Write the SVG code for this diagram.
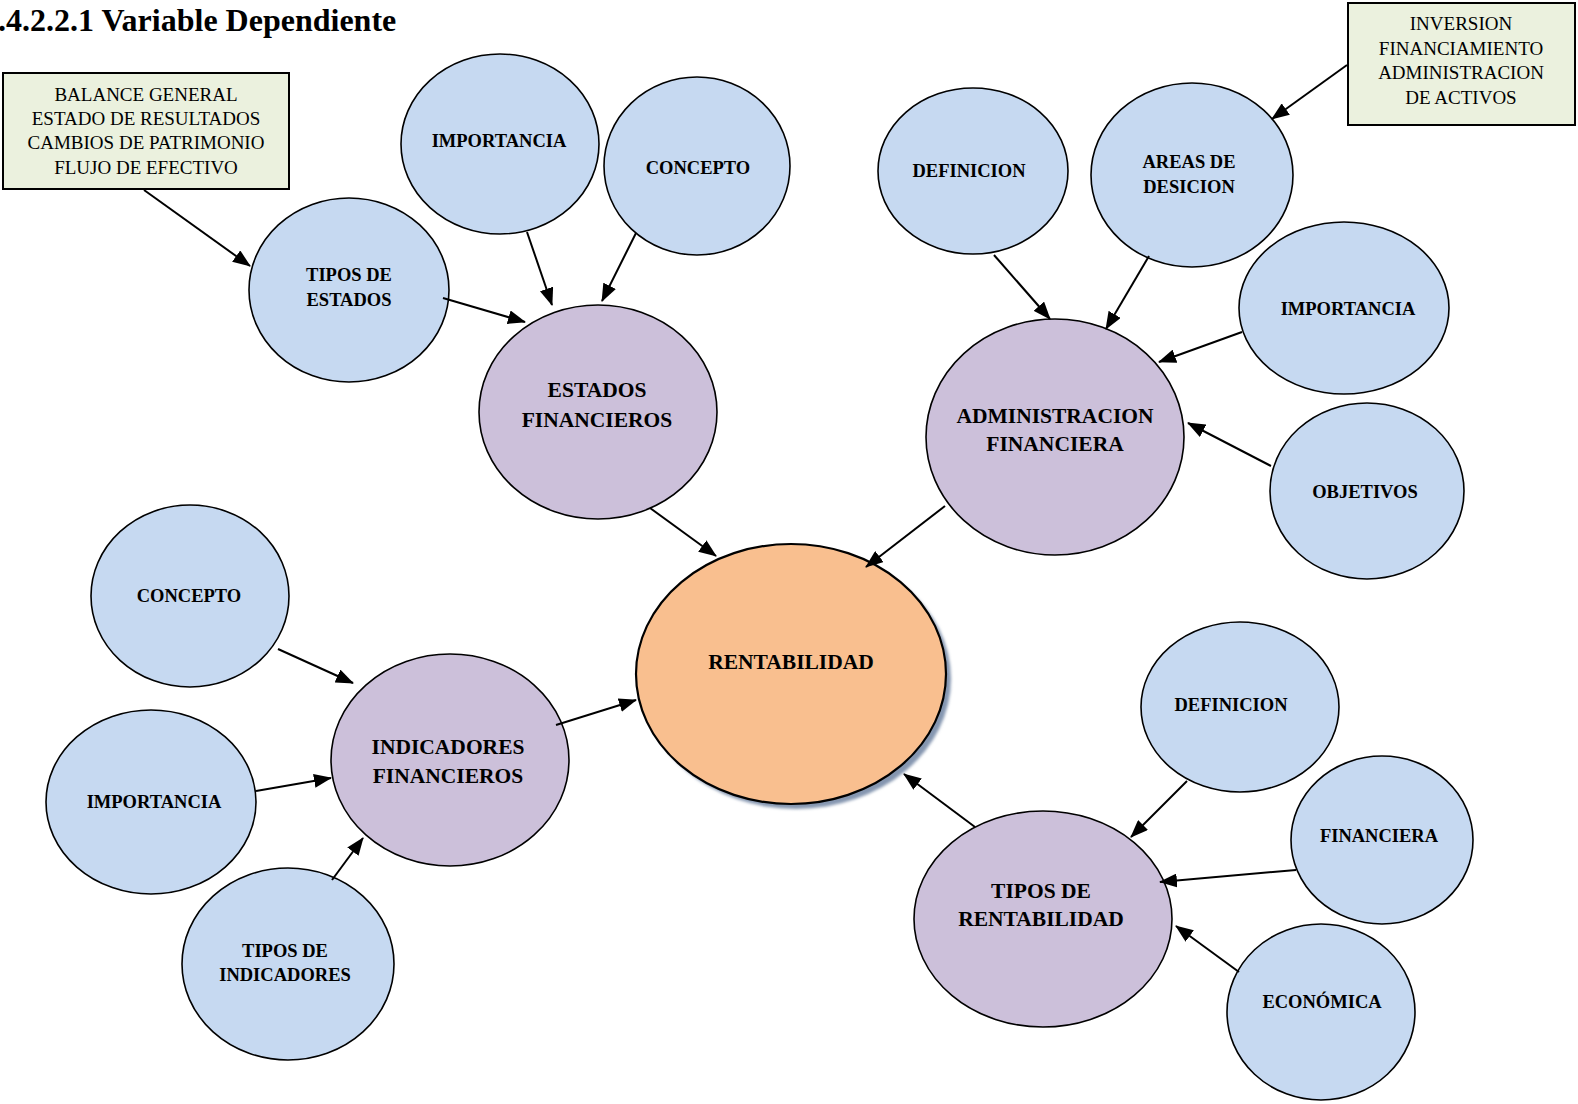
<svg xmlns="http://www.w3.org/2000/svg" width="1578" height="1104" viewBox="0 0 1578 1104">
  <style>
    .sub { fill: #c6d9f1; stroke: #000; stroke-width: 1.6; }
    .mid { fill: #ccc0da; stroke: #000; stroke-width: 1.6; }
    .core { fill: #f9bf8f; stroke: #000; stroke-width: 2.2; }
    .box { fill: #ebf1de; stroke: #000; stroke-width: 2; }
    .t { font-family: "Liberation Serif", "Times New Roman", serif; font-weight: bold; font-size: 18.5px; fill: #000; text-anchor: middle; }
    .tl { font-family: "Liberation Serif", "Times New Roman", serif; font-weight: bold; font-size: 21.5px; fill: #000; text-anchor: middle; }
    .tb { font-family: "Liberation Serif", "Times New Roman", serif; font-size: 19px; fill: #000; text-anchor: middle; }
    .title { font-family: "Liberation Serif", "Times New Roman", serif; font-weight: bold; font-size: 32px; fill: #000; }
    .conn line { stroke: #000; stroke-width: 2; marker-end: url(#arrow); }
  </style>
  <defs>
    <marker id="arrow" markerUnits="userSpaceOnUse" markerWidth="18" markerHeight="14" refX="17" refY="7" orient="auto">
      <path d="M0,0 L18,7 L0,14 Z" fill="#000"/>
    </marker>
    <filter id="soft" x="-10%" y="-10%" width="120%" height="120%">
      <feGaussianBlur stdDeviation="1.5"/>
    </filter>
  </defs>

  <rect width="1578" height="1104" fill="#fff"/>

  <text class="title" x="-2" y="31">.4.2.2.1 Variable Dependiente</text>

  <!-- detail boxes -->
  <g id="box-estados">
    <rect class="box" x="3" y="73" width="286" height="116"/>
    <text class="tb" x="146" y="101">BALANCE GENERAL</text>
    <text class="tb" x="146" y="125">ESTADO DE RESULTADOS</text>
    <text class="tb" x="146" y="149">CAMBIOS DE PATRIMONIO</text>
    <text class="tb" x="146" y="174">FLUJO DE EFECTIVO</text>
  </g>
  <g id="box-areas">
    <rect class="box" x="1348" y="3" width="227" height="122"/>
    <text class="tb" x="1461" y="30">INVERSION</text>
    <text class="tb" x="1461" y="55">FINANCIAMIENTO</text>
    <text class="tb" x="1461" y="79">ADMINISTRACION</text>
    <text class="tb" x="1461" y="104">DE ACTIVOS</text>
  </g>

  <!-- Estados financieros branch -->
  <g id="importancia-ef">
    <ellipse class="sub" cx="500" cy="144" rx="99" ry="90"/>
    <text class="t" x="499" y="147">IMPORTANCIA</text>
  </g>
  <g id="concepto-ef">
    <ellipse class="sub" cx="697" cy="166" rx="93" ry="89"/>
    <text class="t" x="698" y="174">CONCEPTO</text>
  </g>
  <g id="tipos-estados">
    <ellipse class="sub" cx="349" cy="290" rx="100" ry="92"/>
    <text class="t" x="349" y="281">TIPOS DE</text>
    <text class="t" x="349" y="306">ESTADOS</text>
  </g>
  <g id="estados-financieros">
    <ellipse class="mid" cx="598" cy="412" rx="119" ry="107"/>
    <text class="tl" x="597" y="397">ESTADOS</text>
    <text class="tl" x="597" y="427">FINANCIEROS</text>
  </g>

  <!-- Administracion financiera branch -->
  <g id="definicion-af">
    <ellipse class="sub" cx="973" cy="171" rx="95" ry="83"/>
    <text class="t" x="969" y="177">DEFINICION</text>
  </g>
  <g id="areas-decision">
    <ellipse class="sub" cx="1192" cy="175" rx="101" ry="92"/>
    <text class="t" x="1189" y="168">AREAS DE</text>
    <text class="t" x="1189" y="193">DESICION</text>
  </g>
  <g id="importancia-af">
    <ellipse class="sub" cx="1344" cy="308" rx="105" ry="86"/>
    <text class="t" x="1348" y="315">IMPORTANCIA</text>
  </g>
  <g id="objetivos">
    <ellipse class="sub" cx="1367" cy="491" rx="97" ry="88"/>
    <text class="t" x="1365" y="498">OBJETIVOS</text>
  </g>
  <g id="administracion-financiera">
    <ellipse class="mid" cx="1055" cy="437" rx="129" ry="118"/>
    <text class="tl" x="1055" y="423">ADMINISTRACION</text>
    <text class="tl" x="1055" y="451">FINANCIERA</text>
  </g>

  <!-- Central node -->
  <g id="rentabilidad">
    <ellipse cx="796" cy="679" rx="155" ry="130" fill="#8596b0" filter="url(#soft)"/>
    <ellipse class="core" cx="791" cy="674" rx="155" ry="130"/>
    <text class="tl" x="791" y="669">RENTABILIDAD</text>
  </g>

  <!-- Indicadores financieros branch -->
  <g id="concepto-if">
    <ellipse class="sub" cx="190" cy="596" rx="99" ry="91"/>
    <text class="t" x="189" y="602">CONCEPTO</text>
  </g>
  <g id="importancia-if">
    <ellipse class="sub" cx="151" cy="802" rx="105" ry="92"/>
    <text class="t" x="154" y="808">IMPORTANCIA</text>
  </g>
  <g id="tipos-indicadores">
    <ellipse class="sub" cx="288" cy="964" rx="106" ry="96"/>
    <text class="t" x="285" y="957">TIPOS DE</text>
    <text class="t" x="285" y="981">INDICADORES</text>
  </g>
  <g id="indicadores-financieros">
    <ellipse class="mid" cx="450" cy="760" rx="119" ry="106"/>
    <text class="tl" x="448" y="754">INDICADORES</text>
    <text class="tl" x="448" y="783">FINANCIEROS</text>
  </g>

  <!-- Tipos de rentabilidad branch -->
  <g id="definicion-tr">
    <ellipse class="sub" cx="1240" cy="707" rx="99" ry="85"/>
    <text class="t" x="1231" y="711">DEFINICION</text>
  </g>
  <g id="financiera">
    <ellipse class="sub" cx="1382" cy="840" rx="91" ry="84"/>
    <text class="t" x="1379" y="842">FINANCIERA</text>
  </g>
  <g id="economica">
    <ellipse class="sub" cx="1321" cy="1012" rx="94" ry="88"/>
    <text class="t" x="1322" y="1008">ECONÓMICA</text>
  </g>
  <g id="tipos-rentabilidad">
    <ellipse class="mid" cx="1043" cy="919" rx="129" ry="108"/>
    <text class="tl" x="1041" y="898">TIPOS DE</text>
    <text class="tl" x="1041" y="926">RENTABILIDAD</text>
  </g>

  <!-- connectors -->
  <g id="connectors" class="conn">
    <line x1="144" y1="190" x2="250" y2="266"/>
    <line x1="443" y1="298" x2="525" y2="322"/>
    <line x1="527" y1="232" x2="552" y2="305"/>
    <line x1="636" y1="233" x2="602" y2="301"/>
    <line x1="650" y1="508" x2="716" y2="556"/>
    <line x1="994" y1="255" x2="1050" y2="319"/>
    <line x1="1149" y1="256" x2="1106" y2="329"/>
    <line x1="1242" y1="332" x2="1159" y2="362"/>
    <line x1="1271" y1="466" x2="1188" y2="423"/>
    <line x1="1347" y1="65" x2="1272" y2="119"/>
    <line x1="945" y1="506" x2="866" y2="567"/>
    <line x1="278" y1="649" x2="353" y2="683"/>
    <line x1="256" y1="791" x2="331" y2="778"/>
    <line x1="332" y1="880" x2="363" y2="838"/>
    <line x1="556" y1="725" x2="636" y2="700"/>
    <line x1="1187" y1="781" x2="1131" y2="837"/>
    <line x1="1296" y1="870" x2="1160" y2="882"/>
    <line x1="1239" y1="972" x2="1176" y2="926"/>
    <line x1="975" y1="827" x2="904" y2="774"/>
  </g>
</svg>
